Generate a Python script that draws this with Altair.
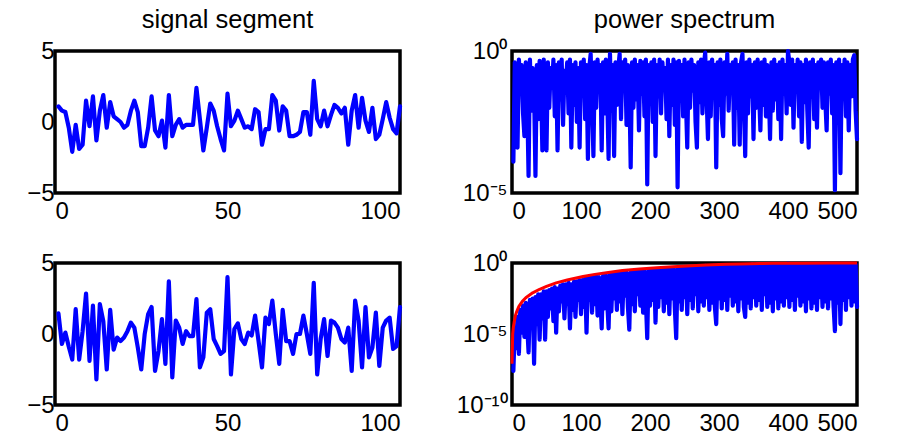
import altair as alt
import pandas as pd

# ---------------- data ----------------
sig_top = [1.1, 0.8, 0.7, -0.4, -2.1, -0.2, -1.9, -1.6, 1.5, -0.3,
           1.8, -1.3, 0.8, 1.9, -0.4, 1.4, 0.4, 0.2, 0.0, -0.4,
           -0.2, 0.8, 1.5, 0.7, -1.7, -1.7, -0.4, 1.8, -0.6, -1.0,
           0.1, -1.8, 1.9, -1.0, -0.2, 0.2, -0.4, -0.2, -0.2, -0.2,
           2.4, 0.2, -2.0, -0.4, 1.3, 0.8, -0.3, -1.2, -2.0, 2.0,
           -0.3, 0.1, 0.8, 0.2, -0.4, -0.3, -0.5, 0.9, 0.7, -1.6,
           -0.5, -0.5, 1.9, 1.5, -0.6, 1.1, 0.8, -1.0, -1.0, -0.9,
           -0.7, 0.7, 0.7, -0.9, 2.9, 0.2, -0.3, 0.8, -0.3, 0.5,
           1.2, 1.0, 0.6, 1.0, -1.6, 0.8, 1.9, -0.4, 1.7, 0.1,
           -0.7, 1.0, -1.2, -0.9, 0.2, 1.4, 0.3, -0.5, -0.8, 1.1]

sig_bot = [1.45, -0.7, 0.1, -0.9, -1.8, 1.75, -1.8, 0.2, 2.85, -1.9,
           2.0, -3.2, 2.1, 0.9, -2.5, 1.7, -1.1, -0.25, -0.5, -0.25,
           0.2, 0.8, 0.45, -0.95, -2.5, 0.0, 1.4, 1.9, -2.6, -1.2,
           1.05, -2.1, 3.7, -3.05, 0.95, 0.45, -0.7, 0.2, -0.15, -0.15,
           2.45, -2.35, -1.65, 1.5, 1.75, -0.35, -0.85, -1.4, -1.2, 4.0,
           -2.85, 0.35, 0.75, -0.35, -0.7, 0.1, -0.1, 1.3, -0.5, -2.35,
           1.15, 0.7, 2.35, 0.0, -2.1, 1.7, -0.5, -0.5, -1.4, 0.0,
           0.0, 1.3, 0.0, -1.4, 3.6, -2.85, -0.35, 1.05, -1.55, 0.95,
           0.8, 0.45, -0.35, -0.6, 0.45, -2.6, 2.35, 0.95, -2.35, 1.9,
           -1.65, -0.95, 1.5, -2.25, 0.45, 0.95, 1.15, -1.05, -0.85, 1.9]

# power spectra, log10 of the value, at frequency bins 2, 4, ..., 500
spec_top_log = [
    -3.9, -0.4, -1.9, -3.4, -0.3, -1.2, -0.5, -2.2, -3.0, -0.4, -1.6, -4.4, -0.3, -2.1, -0.6, -1.4, -4.4, -0.5, -2.4, -0.35, -1.1, -3.5, -0.3, -1.8, -3.5,
    -0.4, -2.0, -0.6, -1.3, -0.3, -2.3, -0.5, -3.5, -0.4, -1.7, -0.3, -2.6, -0.7, -1.2, -0.4, -2.2, -0.3, -3.4, -0.5, -1.9, -0.4, -2.5, -0.6, -3.4, -0.4,
    -1.5, -0.3, -2.4, -0.5, -3.8, -0.6, -0.1, -1.8, -3.7, -0.4, -2.0, -0.3, -1.3, -0.5, -3.5, -0.4, -2.2, -0.3, -1.6, -3.8, -0.1, -2.1, -0.5, -3.7, -0.4,
    -1.9, -0.6, -0.1, -2.4, -0.4, -1.4, -0.3, -2.6, -0.5, -1.1, -4.1, -0.4, -2.0, -0.3, -1.7, -0.5, -2.8, -0.35, -1.5, -0.4, -2.3, -0.3, -4.7, -0.5, -1.8,
    -0.4, -2.5, -0.3, -3.7, -0.5, -1.6, -0.3, -2.2, -0.4, -1.3, -0.6, -2.4, -0.3, -3.0, -0.5, -1.9, -0.3, -2.6, -0.4, -4.8, -0.35, -1.5, -0.5, -2.3, -0.3,
    -1.7, -3.4, -0.4, -2.0, -0.3, -1.4, -0.5, -2.5, -3.4, -0.4, -1.8, -0.3, -2.2, -0.5, -0.06, -1.6, -3.1, -0.4, -2.3, -0.3, -1.2, -0.5, -4.1, -0.4, -1.9,
    -0.3, -2.4, -3.0, -0.4, -1.5, -0.1, -2.1, -0.5, -1.3, -0.4, -3.3, -0.3, -2.0, -0.5, -3.3, -0.4, -0.1, -1.8, -3.7, -0.4, -2.2, -0.3, -1.6, -0.5, -3.1,
    -0.4, -2.0, -0.3, -1.4, -2.8, -0.4, -1.9, -0.3, -2.3, -0.5, -1.2, -3.1, -0.4, -2.1, -0.3, -1.7, -0.5, -2.4, -0.4, -3.1, -0.3, -1.5, -0.5, -2.2, 0.0,
    -0.4, -1.9, -0.3, -2.7, -0.5, -1.4, -0.3, -2.3, -0.4, -3.2, -0.5, -1.8, -0.3, -2.1, -3.4, -0.4, -1.6, -0.3, -2.4, -0.5, -2.7, -0.4, -1.3, -0.3, -2.0,
    -0.4, -1.7, -2.8, -0.4, -1.5, -0.3, -2.2, -0.5, -4.9, -0.4, -1.9, -0.3, -4.3, -0.5, -1.4, -0.3, -2.3, -0.4, -2.8, -0.5, -1.6, -0.3, -0.15, -2.1, -3.1,
]

spec_bot_log = [
    -7.6, -4.6, -6.0, -3.8, -6.4, -3.3, -4.9, -3.0, -5.2, -2.8, -4.4, -6.3, -2.6, -4.0, -2.5, -7.1, -2.4, -4.3, -2.2, -5.4, -2.2, -3.9, -2.0, -5.4, -2.0,
    -3.8, -1.9, -3.2, -1.8, -4.1, -1.7, -4.9, -1.8, -3.4, -1.6, -2.7, -1.5, -3.9, -1.5, -2.9, -1.4, -4.6, -1.5, -3.3, -1.3, -3.8, -1.3, -2.6, -1.2, -3.6,
    -1.2, -3.1, -1.1, -4.9, -1.1, -2.6, -1.0, -3.5, -1.0, -2.9, -0.95, -3.7, -1.0, -2.4, -4.6, -0.9, -3.2, -0.85, -2.8, -4.6, -0.8, -3.4, -0.8, -2.5, -0.75,
    -3.3, -0.75, -2.7, -0.7, -3.6, -0.7, -2.3, -0.65, -3.1, -4.7, -0.65, -2.9, -0.6, -3.4, -0.6, -2.2, -0.6, -3.0, -0.55, -3.5, -0.55, -2.6, -5.3, -0.55, -3.0,
    -0.5, -2.6, -0.5, -4.2, -0.5, -3.1, -0.45, -2.4, -0.45, -3.4, -0.45, -2.8, -0.4, -3.6, -0.4, -2.5, -0.4, -3.2, -5.3, -0.4, -2.7, -0.35, -3.3, -0.35, -2.4,
    -0.35, -3.6, -0.35, -2.6, -0.3, -3.2, -0.3, -2.2, -0.3, -3.4, -0.3, -2.7, -0.25, -3.0, -0.2, -2.4, -0.25, -3.3, -0.25, -2.8, -0.2, -3.1, -4.3, -0.2, -2.5,
    -0.2, -3.2, -0.2, -2.6, -0.2, -3.3, -0.15, -2.3, -0.2, -3.0, -0.15, -2.7, -0.2, -3.4, -0.15, -2.5, -0.15, -3.1, -3.8, -0.15, -2.8, -0.15, -3.2, -0.1, -2.4,
    -0.15, -3.0, -0.1, -2.6, -0.15, -3.3, -0.1, -2.2, -0.15, -3.1, -0.1, -2.8, -0.15, -3.4, -0.1, -2.5, -0.1, -3.2, -0.15, -2.7, -0.1, -3.0, -0.1, -2.4, -0.05,
    -3.1, -0.1, -2.6, -0.1, -3.3, -0.15, -2.3, -0.1, -3.0, -0.1, -2.7, -0.1, -3.4, -0.15, -2.5, -0.1, -3.2, -0.1, -2.8, -0.1, -3.3, -0.1, -2.4, -0.1, -3.1,
    -0.1, -2.7, -0.1, -3.2, -0.1, -2.5, -0.1, -3.0, -4.8, -0.1, -2.8, -0.1, -4.3, -0.1, -2.6, -0.1, -3.3, -0.1, -2.4, -0.1, -3.0, -0.1, -2.7, -0.1, -3.1,
]

# red reference curve (log10), read at these bins
red_x = [0, 1, 2, 3, 5, 7, 10, 15, 20, 30, 40, 50, 64, 80, 103, 120, 137, 160, 185,
         210, 233, 260, 281, 310, 330, 360, 378, 420, 460, 500]
red_log = [-7.1, -5.0, -4.5, -4.2, -3.7, -3.4, -3.05, -2.7, -2.45, -2.1, -1.85, -1.65, -1.4,
           -1.2, -0.95, -0.8, -0.68, -0.53, -0.42, -0.33, -0.26, -0.19, -0.14, -0.09, -0.07,
           -0.04, -0.02, -0.01, 0.0, 0.0]

x_sig = list(range(1, 101))
x_spec = list(range(2, 501, 2))

FONT = "Liberation Sans"
BLUE = "#0000ff"
RED = "#ff0000"
W, H = 345, 142


def signal_panel(values, title=None):
    df = pd.DataFrame({"n": x_sig, "v": values})
    ch = alt.Chart(df).mark_line(color=BLUE, strokeWidth=4.2, strokeJoin="round", strokeCap="round").encode(
        x=alt.X("n:Q", scale=alt.Scale(domain=[0, 100], nice=False, zero=False),
                axis=alt.Axis(values=[0, 50, 100], title=None)),
        y=alt.Y("v:Q", scale=alt.Scale(domain=[-5, 5], nice=False),
                axis=alt.Axis(values=[-5, 0, 5], title=None, labelPadding=1)),
    )
    if title:
        return ch.properties(width=W, height=H, title=title)
    return ch.properties(width=W, height=H)


LOG_LABELS = ("datum.value > 0.5 ? '10\u2070' : (datum.value > 1e-7 ? '10\u207b\u2075' : '10\u207b\u00b9\u2070')")


def spectrum_panel(logs, ymin_exp, tick_vals, title=None, red=False):
    df = pd.DataFrame({"f": x_spec, "p": [10.0 ** v for v in logs]})
    yscale = alt.Scale(type="log", domain=[10.0 ** ymin_exp, 1.0], nice=False)
    xenc = alt.X("f:Q", scale=alt.Scale(domain=[0, 500], nice=False, zero=False),
                 axis=alt.Axis(values=[0, 100, 200, 300, 400, 500], title=None))
    yenc = alt.Y("p:Q", scale=yscale,
                 axis=alt.Axis(values=tick_vals, title=None, labelExpr=LOG_LABELS, labelPadding=5))
    blue = alt.Chart(df).mark_line(color=BLUE, strokeWidth=4.2, strokeJoin="round", strokeCap="round").encode(
        x=xenc, y=yenc)
    layers = [blue]
    if red:
        rdf = pd.DataFrame({"f": red_x, "p": [10.0 ** v for v in red_log]})
        layers.append(alt.Chart(rdf).mark_line(color=RED, strokeWidth=3, strokeJoin="round").encode(
            x=alt.X("f:Q"), y=alt.Y("p:Q")))
    ch = alt.layer(*layers)
    if title:
        return ch.properties(width=W, height=H, title=title)
    return ch.properties(width=W, height=H)


tl = signal_panel(sig_top, "signal segment")
tr = spectrum_panel(spec_top_log, -5, [1e-5, 1.0], "power spectrum")
bl = signal_panel(sig_bot)
br = spectrum_panel(spec_bot_log, -10, [1e-10, 1e-5, 1.0], red=True)

chart = alt.concat(
    tl, tr, bl, br, columns=2, spacing={"row": 70, "column": 112}, bounds="flush"
).properties(
    padding={"left": 24, "top": 5, "right": 0, "bottom": 0}
).configure_view(
    stroke="black", strokeWidth=3.5
).configure_axis(
    grid=False, domain=False, ticks=False,
    labelFont=FONT, labelFontSize=24, labelColor="black", labelPadding=6,
).configure_title(
    font=FONT, fontSize=25.5, fontWeight="normal", color="black", offset=6, anchor="middle"
)

chart.save("out.html", embed_options={"renderer": "svg", "actions": False})
